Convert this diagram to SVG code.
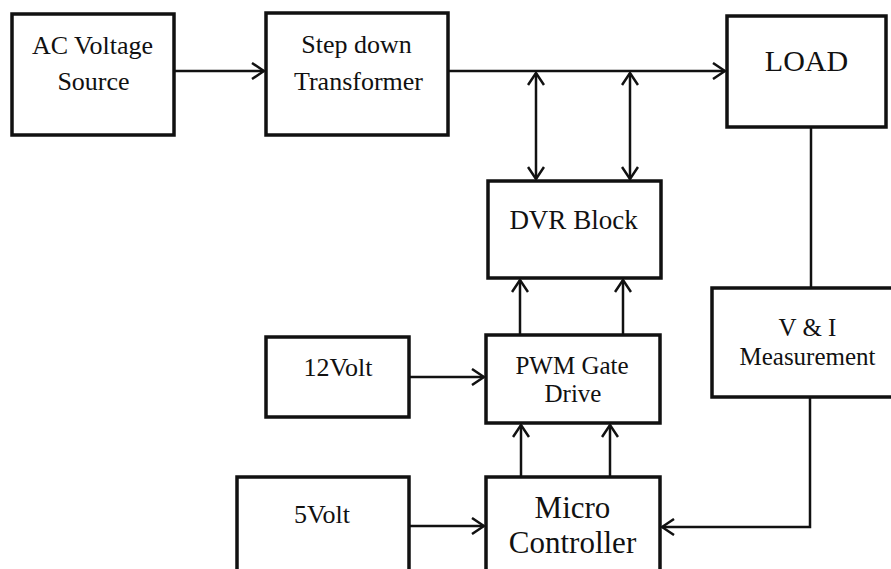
<svg xmlns="http://www.w3.org/2000/svg" width="891" height="569" viewBox="0 0 891 569">
<style>
.box{fill:#fff;stroke:#111;stroke-width:3.5}
.t{font-family:"Liberation Serif","Times New Roman",serif;fill:#111;text-anchor:middle}
.c{fill:none;stroke:#111;stroke-width:2.5}
</style>
<defs>
<marker id="ah" viewBox="0 0 14 18" refX="13" refY="9" markerWidth="14" markerHeight="18" markerUnits="userSpaceOnUse" orient="auto-start-reverse">
<path d="M1,1 L13,9 L1,17" fill="none" stroke="#111" stroke-width="2.5"/>
</marker>
</defs>
<rect width="891" height="569" fill="#fff"/>
<g id="connectors">
<line class="c" x1="174" y1="71" x2="264" y2="71" marker-end="url(#ah)"/>
<line class="c" x1="448" y1="71" x2="725" y2="71" marker-end="url(#ah)"/>
<line class="c" x1="536" y1="73" x2="536" y2="179" marker-start="url(#ah)" marker-end="url(#ah)"/>
<line class="c" x1="630" y1="73" x2="630" y2="179" marker-start="url(#ah)" marker-end="url(#ah)"/>
<line class="c" x1="811" y1="127" x2="811" y2="288"/>
<line class="c" x1="520" y1="335" x2="520" y2="280" marker-end="url(#ah)"/>
<line class="c" x1="623" y1="335" x2="623" y2="280" marker-end="url(#ah)"/>
<line class="c" x1="409" y1="377" x2="484" y2="377" marker-end="url(#ah)"/>
<line class="c" x1="521" y1="477" x2="521" y2="425" marker-end="url(#ah)"/>
<line class="c" x1="610" y1="477" x2="610" y2="425" marker-end="url(#ah)"/>
<line class="c" x1="409" y1="526" x2="484" y2="526" marker-end="url(#ah)"/>
<polyline class="c" points="810,397 810,527 662,527" marker-end="url(#ah)"/>
</g>
<g id="ac-source">
<rect class="box" x="12" y="14" width="162" height="121"/>
<text class="t" x="92.5" y="54" font-size="26">AC Voltage</text>
<text class="t" x="93.5" y="90" font-size="26">Source</text>
</g>
<g id="transformer">
<rect class="box" x="266" y="13" width="182" height="122"/>
<text class="t" x="356.5" y="53" font-size="26">Step down</text>
<text class="t" x="358.5" y="90" font-size="26">Transformer</text>
</g>
<g id="load">
<rect class="box" x="727" y="16" width="159" height="111"/>
<text class="t" x="806.5" y="71" font-size="30">LOAD</text>
</g>
<g id="dvr">
<rect class="box" x="488" y="181" width="173" height="97"/>
<text class="t" x="573.5" y="229" font-size="27">DVR Block</text>
</g>
<g id="vi">
<rect class="box" x="712" y="288" width="182" height="109"/>
<text class="t" x="807.5" y="336" font-size="25">V &amp; I</text>
<text class="t" x="807.5" y="365" font-size="25">Measurement</text>
</g>
<g id="v12">
<rect class="box" x="266" y="337" width="143" height="80"/>
<text class="t" x="338" y="376" font-size="26">12Volt</text>
</g>
<g id="pwm">
<rect class="box" x="486" y="335" width="174" height="88"/>
<text class="t" x="572" y="374" font-size="25">PWM Gate</text>
<text class="t" x="573" y="402" font-size="25">Drive</text>
</g>
<g id="v5">
<rect class="box" x="237" y="477" width="172" height="100"/>
<text class="t" x="322" y="523" font-size="26">5Volt</text>
</g>
<g id="micro">
<rect class="box" x="486" y="477" width="174" height="100"/>
<text class="t" x="572.5" y="518" font-size="31">Micro</text>
<text class="t" x="572.5" y="553" font-size="31">Controller</text>
</g>
</svg>
